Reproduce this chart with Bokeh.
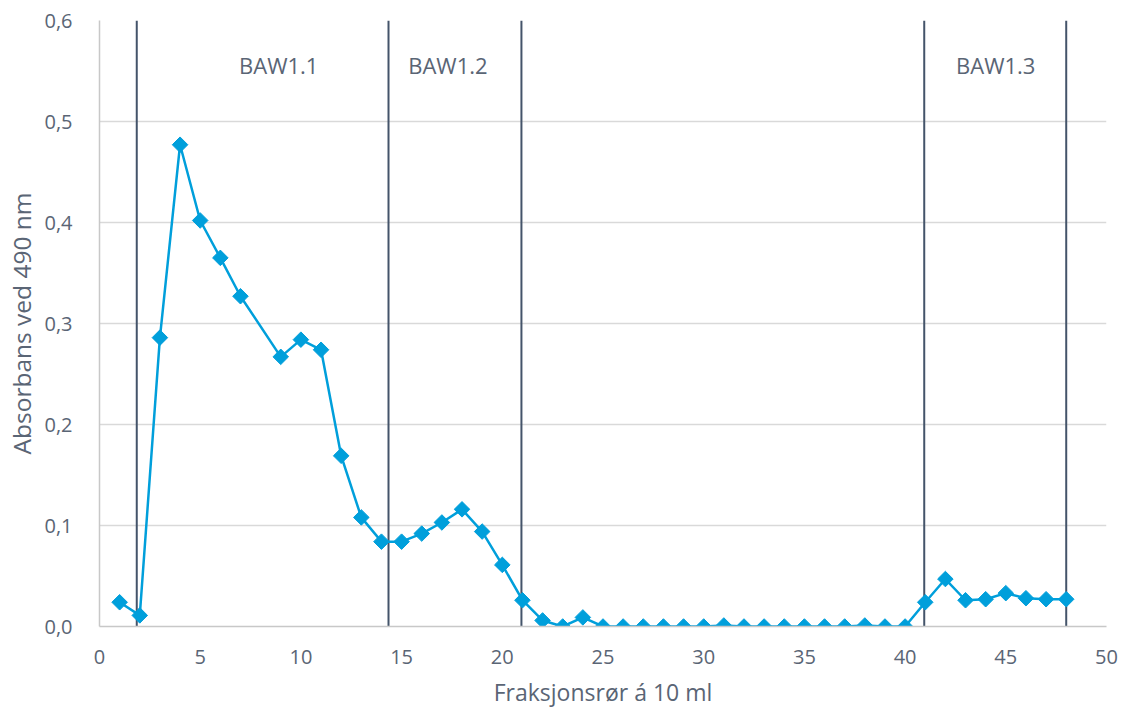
import math
from bokeh.plotting import figure
from bokeh.models import ColumnDataSource, FixedTicker, CustomJSTickFormatter, Range1d
from bokeh.core.properties import value
from bokeh.embed import file_html
from bokeh.resources import INLINE

# Absorbance of collected fractions
fraction = [1, 2, 3, 4, 5, 6, 7, 9, 10, 11, 12, 13, 14, 15, 16, 17, 18, 19, 20,
            21, 22, 23, 24, 25, 26, 27, 28, 29, 30, 31, 32, 33, 34, 35, 36, 37,
            38, 39, 40, 41, 42, 43, 44, 45, 46, 47, 48]
absorbance = [0.024, 0.011, 0.286, 0.477, 0.402, 0.365, 0.327, 0.267, 0.284,
              0.274, 0.169, 0.108, 0.084, 0.084, 0.092, 0.103, 0.116, 0.094,
              0.061, 0.026, 0.006, 0.000, 0.009, 0.000, 0.000, 0.000, 0.000,
              0.000, 0.000, 0.001, 0.000, 0.000, 0.000, 0.000, 0.000, 0.000,
              0.001, 0.000, 0.000, 0.024, 0.047, 0.026, 0.027, 0.033, 0.028,
              0.027, 0.027]

# Pool boundaries and pool names
boundaries = [1.85, 14.35, 20.95, 40.95, 48.0]
pool_names = ["BAW1.1", "BAW1.2", "BAW1.3"]
pool_x = [8.9, 17.3, 44.5]
pool_y = [0.556, 0.556, 0.556]

x_ticks = [0, 5, 10, 15, 20, 25, 30, 35, 40, 45, 50]
y_ticks = [0.0, 0.1, 0.2, 0.3, 0.4, 0.5, 0.6]

TEXT = "#5A6575"
FONT = "Open Sans"

p = figure(width=1125, height=710, output_backend="svg", toolbar_location=None,
           x_range=Range1d(0, 50), y_range=Range1d(0, 0.6),
           min_border_left=99, min_border_right=19, min_border_top=20,
           min_border_bottom=84)
p.outline_line_color = None
p.background_fill_color = "white"
p.border_fill_color = "white"

p.xgrid.grid_line_color = None
p.ygrid.grid_line_color = "#D9D9D9"
p.ygrid.grid_line_width = 1.3
p.ygrid.ticker = FixedTicker(ticks=y_ticks)

p.xaxis.ticker = FixedTicker(ticks=x_ticks)
p.yaxis.ticker = FixedTicker(ticks=y_ticks)
p.yaxis.formatter = CustomJSTickFormatter(
    code="return tick.toFixed(1).replace('.', ',');")

for ax in (p.xaxis[0], p.yaxis[0]):
    ax.axis_line_color = "#C8C8C8"
    ax.axis_line_width = 1.5
    ax.major_tick_line_color = None
    ax.minor_tick_line_color = None
    ax.major_label_text_font = FONT
    ax.major_label_text_font_size = "20px"
    ax.major_label_text_color = TEXT
    ax.axis_label_text_font = FONT
    ax.axis_label_text_font_style = "normal"
    ax.axis_label_text_color = TEXT

p.xaxis.axis_label = "Fraksjonsrør á 10 ml"
p.yaxis.axis_label = "Absorbans ved 490 nm"
p.xaxis.axis_label_text_font_size = "23px"
p.yaxis.axis_label_text_font_size = "24.5px"
p.xaxis.major_label_standoff = 17
p.yaxis.major_label_standoff = 21
p.xaxis.axis_label_standoff = 9
p.yaxis.axis_label_standoff = 3

# Pool boundary lines
bsrc = ColumnDataSource(dict(x=boundaries,
                             y0=[y_ticks[0]] * len(boundaries),
                             y1=[y_ticks[-1]] * len(boundaries)))
p.segment(x0="x", y0="y0", x1="x", y1="y1", source=bsrc,
          line_color="#44546A", line_width=2)

# Pool labels
p.text(x=pool_x, y=pool_y, text=pool_names, text_align="center",
       text_baseline="middle", text_font=value(FONT), text_font_size="22px",
       text_color=TEXT)

# Absorbance series
src = ColumnDataSource(dict(x=fraction, y=absorbance))
p.line("x", "y", source=src, line_color="#009FDB", line_width=2.5)
p.scatter("x", "y", source=src, marker="square", size=11, angle=math.pi / 4,
          fill_color="#009FDB", line_color="#009FDB")

open("out.html", "w").write(file_html(p, INLINE))
